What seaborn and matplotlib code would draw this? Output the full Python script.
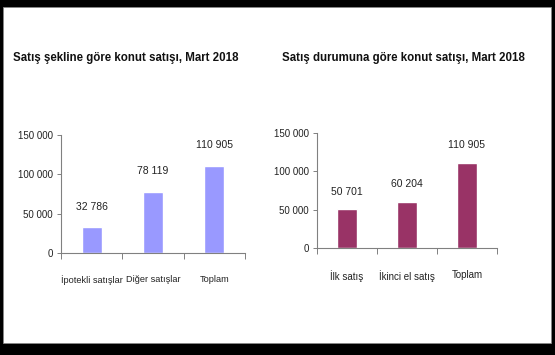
import matplotlib
matplotlib.use("Agg")
import matplotlib.pyplot as plt
import seaborn as sns
from matplotlib.patches import Rectangle
from matplotlib.ticker import FuncFormatter, FixedLocator, NullFormatter

sns.set_theme(style="white")
plt.rcParams['font.family'] = ['Liberation Sans', 'DejaVu Sans']

left_title = "Satış şekline göre konut satışı, Mart 2018"
left_cats = ["İpotekli satışlar", "Diğer satışlar", "Toplam"]
left_vals = [32786, 78119, 110905]

right_title = "Satış durumuna göre konut satışı, Mart 2018"
right_cats = ["İlk satış", "İkinci el satış", "Toplam"]
right_vals = [50701, 60204, 110905]

yticks = [0, 50000, 100000, 150000]


def fmt(v):
    return f"{int(v):,}".replace(",", " ")


fig = plt.figure(figsize=(5.55, 3.55), dpi=100)
fig.patch.set_facecolor("black")
fig.patches.append(Rectangle((3 / 555, 12 / 355), 548 / 555, 336 / 355,
                             transform=fig.transFigure, facecolor="white",
                             edgecolor="#888888", linewidth=0.6, zorder=-5))


def draw(rect, cats, vals, color, title, title_x, label_pad, xlab_pad, xls):
    ax = fig.add_axes(rect)
    ax.set_zorder(2)
    ax.set_facecolor("none")
    sns.barplot(x=cats, y=vals, color=color, saturation=1, width=0.33, ax=ax)
    ax.set_xlim(-0.5, 2.5)
    ax.set_ylim(0, 150000)
    ax.set_yticks(yticks)
    ax.yaxis.set_major_formatter(FuncFormatter(lambda v, p: fmt(v)))
    ax.xaxis.set_major_locator(FixedLocator([-0.5, 0.5, 1.5, 2.5]))
    ax.xaxis.set_major_formatter(NullFormatter())
    ax.xaxis.set_minor_locator(FixedLocator([0, 1, 2]))
    ax.set_xticklabels(cats, minor=True)
    ax.tick_params(axis="x", which="major", direction="out", length=4,
                   width=0.7, color="#808080", bottom=True)
    ax.tick_params(axis="x", which="minor", length=0, pad=xlab_pad,
                   labelsize=xls, labelcolor="#222222", bottom=True)
    ax.tick_params(axis="y", direction="out", length=3, width=0.7,
                   color="#808080", left=True, labelsize=7,
                   labelcolor="#222222", pad=3)
    for s in ["top", "right"]:
        ax.spines[s].set_visible(False)
    for s in ["left", "bottom"]:
        ax.spines[s].set_color("#808080")
        ax.spines[s].set_linewidth(0.8)
    ax.set_xlabel("")
    ax.set_ylabel("")
    for c in ax.containers:
        ax.bar_label(c, labels=[fmt(v) for v in vals], padding=label_pad,
                     fontsize=7.5, color="#222222")
    fig.text(title_x, 1 - 58 / 355, title, fontsize=8.3, fontweight="bold",
             color="#111111", va="center", ha="left", zorder=3)
    return ax


draw([61 / 555, 1 - 253 / 355, 184 / 555, 118 / 355], left_cats, left_vals,
     "#9999FF", left_title, 13 / 555, 11, 16, 6.6)
draw([317 / 555, 1 - 248 / 355, 180 / 555, 115 / 355], right_cats, right_vals,
     "#993366", right_title, 282 / 555, 9, 16, 7)

fig.savefig("out.png", dpi=100, facecolor=fig.get_facecolor())
